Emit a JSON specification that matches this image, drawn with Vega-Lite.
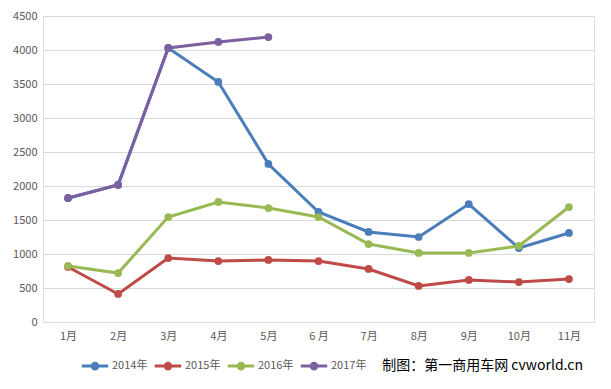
{
  "$schema": "https://vega.github.io/schema/vega-lite/v6.json",
  "autosize": {"type": "none"},
  "width": 551,
  "height": 306,
  "padding": {"left": 43, "top": 16, "right": 17, "bottom": 67},
  "background": "white",
  "title": {
    "text": "制图：第一商用车网 cvworld.cn",
    "orient": "bottom",
    "anchor": "end",
    "font": "Noto Sans CJK SC",
    "fontSize": 14,
    "fontWeight": "normal",
    "color": "#000000",
    "dx": -11,
    "dy": -22,
    "offset": 6
  },
  "data": {
    "values": [
      {"month": "1月", "year": "2014年", "v": 1820},
      {"month": "2月", "year": "2014年", "v": 2020},
      {"month": "3月", "year": "2014年", "v": 4030},
      {"month": "4月", "year": "2014年", "v": 3530},
      {"month": "5月", "year": "2014年", "v": 2324},
      {"month": "6 月", "year": "2014年", "v": 1618},
      {"month": "7月", "year": "2014年", "v": 1324},
      {"month": "8月", "year": "2014年", "v": 1250},
      {"month": "9月", "year": "2014年", "v": 1735},
      {"month": "10月", "year": "2014年", "v": 1088},
      {"month": "11月", "year": "2014年", "v": 1309},
      {"month": "1月", "year": "2015年", "v": 809},
      {"month": "2月", "year": "2015年", "v": 412},
      {"month": "3月", "year": "2015年", "v": 941},
      {"month": "4月", "year": "2015年", "v": 897},
      {"month": "5月", "year": "2015年", "v": 912},
      {"month": "6 月", "year": "2015年", "v": 897},
      {"month": "7月", "year": "2015年", "v": 780},
      {"month": "8月", "year": "2015年", "v": 530},
      {"month": "9月", "year": "2015年", "v": 618},
      {"month": "10月", "year": "2015年", "v": 588},
      {"month": "11月", "year": "2015年", "v": 632},
      {"month": "1月", "year": "2016年", "v": 824},
      {"month": "2月", "year": "2016年", "v": 720},
      {"month": "3月", "year": "2016年", "v": 1544},
      {"month": "4月", "year": "2016年", "v": 1765},
      {"month": "5月", "year": "2016年", "v": 1676},
      {"month": "6 月", "year": "2016年", "v": 1544},
      {"month": "7月", "year": "2016年", "v": 1147},
      {"month": "8月", "year": "2016年", "v": 1015},
      {"month": "9月", "year": "2016年", "v": 1015},
      {"month": "10月", "year": "2016年", "v": 1118},
      {"month": "11月", "year": "2016年", "v": 1691},
      {"month": "1月", "year": "2017年", "v": 1824},
      {"month": "2月", "year": "2017年", "v": 2015},
      {"month": "3月", "year": "2017年", "v": 4030},
      {"month": "4月", "year": "2017年", "v": 4118},
      {"month": "5月", "year": "2017年", "v": 4190}
    ]
  },
  "encoding": {
    "x": {
      "field": "month",
      "type": "ordinal",
      "sort": null,
      "scale": {"type": "point", "padding": 0.5},
      "axis": {
        "title": null,
        "labelAngle": 0,
        "labelFont": "Noto Sans CJK SC",
        "labelFontSize": 11,
        "labelColor": "#595959",
        "labelPadding": 8,
        "ticks": false,
        "domainColor": "#d9d9d9",
        "grid": false
      }
    },
    "y": {
      "field": "v",
      "type": "quantitative",
      "scale": {"domain": [0, 4500], "nice": false},
      "axis": {
        "title": null,
        "format": "d",
        "values": [0, 500, 1000, 1500, 2000, 2500, 3000, 3500, 4000, 4500],
        "labelFont": "Noto Sans CJK SC",
        "labelFontSize": 11,
        "labelColor": "#595959",
        "labelPadding": 6,
        "ticks": false,
        "domain": false,
        "gridColor": "#d9d9d9",
        "gridWidth": 1
      }
    },
    "color": {
      "field": "year",
      "type": "nominal",
      "scale": {
        "domain": ["2014年", "2015年", "2016年", "2017年"],
        "range": ["#4a7ebb", "#be4b48", "#98b954", "#7d60a0"]
      },
      "legend": {
        "title": null,
        "orient": "none",
        "direction": "horizontal",
        "legendX": 37,
        "legendY": 335,
        "symbolType": "M-1,0H1M-0.21,0a0.21,0.21 0 1,0 0.42,0a0.21,0.21 0 1,0 -0.42,0",
        "symbolSize": 700,
        "symbolStrokeWidth": 3,
        "labelFont": "Noto Sans CJK SC",
        "labelFontSize": 11,
        "labelColor": "#595959",
        "labelOffset": 2,
        "columnPadding": 0,
        "encode": {
          "symbols": {"update": {"fill": {"scale": "color", "field": "value"}}}
        }
      }
    }
  },
  "layer": [
    {"mark": {"type": "line", "strokeWidth": 3}},
    {"mark": {"type": "circle", "size": 60, "opacity": 1}}
  ]
}
